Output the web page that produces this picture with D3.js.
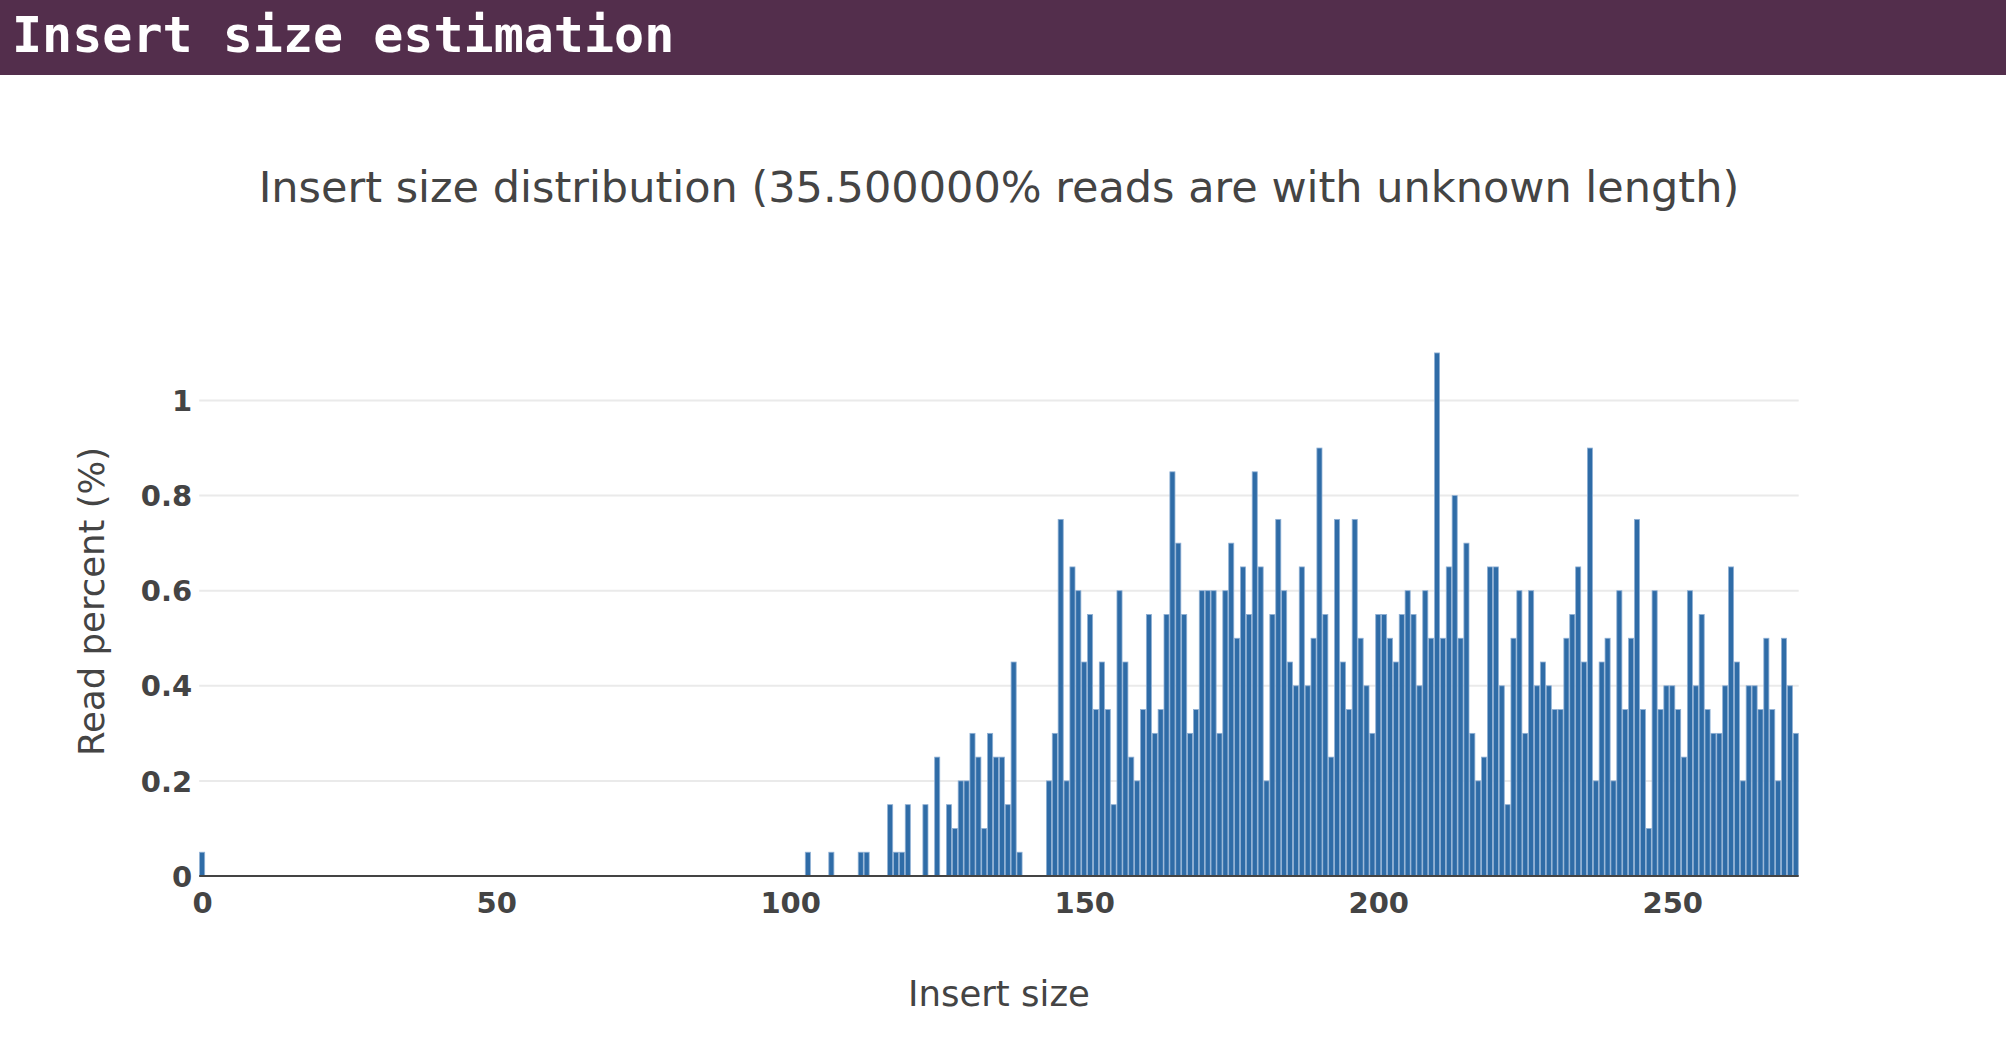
<!DOCTYPE html>
<html>
<head>
<meta charset="utf-8">
<script src="https://cdn.jsdelivr.net/npm/d3@7"></script>
<style>
  html, body { margin: 0; padding: 0; background: #ffffff; }
  svg { display: block; }
</style>
</head>
<body>
<svg id="chart" width="2006" height="1054"></svg>
<script>
// ---- data ----
const headerTitle = "Insert size estimation";
const chartTitle = "Insert size distribution (35.500000% reads are with unknown length)";
const xAxisTitle = "Insert size";
const yAxisTitle = "Read percent (%)";

// read percent (%) for insert sizes 0 .. 271
const readPercent = [
  0.05,0,0,0,0,0,0,0,0,0,0,0,0,0,0,0,0,0,0,0,
  0,0,0,0,0,0,0,0,0,0,0,0,0,0,0,0,0,0,0,0,
  0,0,0,0,0,0,0,0,0,0,0,0,0,0,0,0,0,0,0,0,
  0,0,0,0,0,0,0,0,0,0,0,0,0,0,0,0,0,0,0,0,
  0,0,0,0,0,0,0,0,0,0,0,0,0,0,0,0,0,0,0,0,
  0,0,0,0.05,0,0,0,0.05,0,0,0,0,0.05,0.05,0,0,0,0.15,0.05,0.05,
  0.15,0,0,0.15,0,0.25,0,0.15,0.10,0.20,0.20,0.30,0.25,0.10,0.30,0.25,0.25,0.15,0.45,0.05,
  0,0,0,0,0.20,0.30,0.75,0.20,0.65,0.60,0.45,0.55,0.35,0.45,0.35,0.15,0.60,0.45,0.25,0.20,
  0.35,0.55,0.30,0.35,0.55,0.85,0.70,0.55,0.30,0.35,0.60,0.60,0.60,0.30,0.60,0.70,0.50,0.65,0.55,0.85,
  0.65,0.20,0.55,0.75,0.60,0.45,0.40,0.65,0.40,0.50,0.90,0.55,0.25,0.75,0.45,0.35,0.75,0.50,0.40,0.30,
  0.55,0.55,0.50,0.45,0.55,0.60,0.55,0.40,0.60,0.50,1.10,0.50,0.65,0.80,0.50,0.70,0.30,0.20,0.25,0.65,
  0.65,0.40,0.15,0.50,0.60,0.30,0.60,0.40,0.45,0.40,0.35,0.35,0.50,0.55,0.65,0.45,0.90,0.20,0.45,0.50,
  0.20,0.60,0.35,0.50,0.75,0.35,0.10,0.60,0.35,0.40,0.40,0.35,0.25,0.60,0.40,0.55,0.35,0.30,0.30,0.40,
  0.65,0.45,0.20,0.40,0.40,0.35,0.50,0.35,0.20,0.50,0.40,0.30
];
const insertSizes = readPercent.map((_, i) => i);
const xTicks = [0, 50, 100, 150, 200, 250];
const yTicks = [0, 0.2, 0.4, 0.6, 0.8, 1];
const yTickLabels = ["0", "0.2", "0.4", "0.6", "0.8", "1"];

// ---- layout ----
const W = 2006, H = 1054;
const plot = { left: 199.2, right: 1798.7, top: 326.8, bottom: 876 };
const svg = d3.select("#chart");
const textColor = "#444444";
const sans = "'DejaVu Sans', Verdana, sans-serif";

// header band
svg.append("rect").attr("x", 0).attr("y", 0).attr("width", W).attr("height", 75)
  .attr("fill", "#532e4c");
svg.append("text").attr("x", 12).attr("y", 52)
  .attr("font-family", "'DejaVu Sans Mono', monospace").attr("font-weight", "bold")
  .attr("font-size", 50).attr("fill", "#ffffff").text(headerTitle);

// scales
const x = d3.scaleLinear().domain([-0.5, insertSizes.length - 0.5]).range([plot.left, plot.right]);
const y = d3.scaleLinear().domain([0, 1.155]).range([plot.bottom, plot.top]);
const step = x(1) - x(0);

// gridlines
svg.append("g").selectAll("line").data(yTicks.filter(d => d > 0)).join("line")
  .attr("x1", plot.left).attr("x2", plot.right)
  .attr("y1", d => y(d)).attr("y2", d => y(d))
  .attr("stroke", "#eaeaea").attr("stroke-width", 2);

// bars
const barColor = "#2f6ca7";
svg.append("g").selectAll("rect").data(insertSizes.filter(i => readPercent[i] > 0)).join("rect")
  .attr("x", i => x(i) - step / 2 + 0.4)
  .attr("width", step - 0.8)
  .attr("y", i => y(readPercent[i]))
  .attr("height", i => y(0) - y(readPercent[i]))
  .attr("fill", barColor)
  .attr("stroke", "#8fb0d4").attr("stroke-width", 0.8);

// zero line
svg.append("line").attr("x1", plot.left).attr("x2", plot.right)
  .attr("y1", y(0)).attr("y2", y(0)).attr("stroke", "#444444").attr("stroke-width", 2);

// x axis
const xAxis = d3.axisBottom(x).tickValues(xTicks).tickSize(0).tickPadding(0).tickFormat(d3.format("d"));
const gx = svg.append("g").attr("transform", `translate(0,${plot.bottom})`).call(xAxis);
gx.select(".domain").remove();
gx.selectAll("text").attr("font-family", sans)
  .attr("font-weight", "bold").attr("font-size", 29).attr("fill", textColor)
  .attr("dy", null).attr("y", 37);

// y axis
const yAxis = d3.axisLeft(y).tickValues(yTicks).tickSize(0).tickPadding(0)
  .tickFormat((d, i) => yTickLabels[i]);
const gy = svg.append("g").attr("transform", `translate(${plot.left - 7},0)`).call(yAxis);
gy.select(".domain").remove();
gy.selectAll("text").attr("font-family", sans)
  .attr("font-weight", "bold").attr("font-size", 29).attr("fill", textColor)
  .attr("dy", "0.35em");

// chart title
svg.append("text").attr("x", (plot.left + plot.right) / 2).attr("y", 202)
  .attr("text-anchor", "middle").attr("font-family", sans)
  .attr("font-size", 43).attr("fill", textColor).text(chartTitle);

// axis titles
svg.append("text").attr("x", (plot.left + plot.right) / 2).attr("y", 1006)
  .attr("text-anchor", "middle").attr("font-family", sans)
  .attr("font-size", 35.5).attr("fill", textColor).text(xAxisTitle);
svg.append("text").attr("transform", `translate(104,${(plot.top + plot.bottom) / 2}) rotate(-90)`)
  .attr("text-anchor", "middle").attr("font-family", sans)
  .attr("font-size", 35.5).attr("fill", textColor).text(yAxisTitle);
</script>
</body>
</html>
